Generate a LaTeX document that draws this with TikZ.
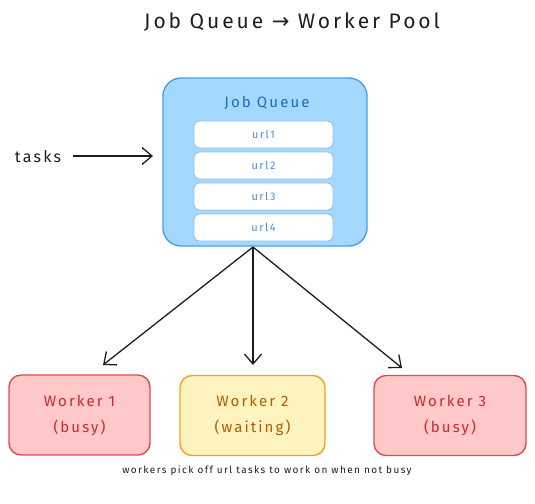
\documentclass[tikz,border=0pt]{standalone}
\usepackage{fontspec}
\setmainfont{Fira Sans}
\newfontfamily\symfont{DejaVu Sans}
\usetikzlibrary{arrows.meta}
\definecolor{qfill}{HTML}{A5D8FF}
\definecolor{qline}{HTML}{4A9EED}
\definecolor{qtext}{HTML}{1C6BB8}
\definecolor{utext}{HTML}{4A8FD8}
\definecolor{uline}{HTML}{8FBFEA}
\definecolor{rfill}{HTML}{FFC9C9}
\definecolor{rline}{HTML}{E5484D}
\definecolor{rtext}{HTML}{C92A2A}
\definecolor{yfill}{HTML}{FFF3BF}
\definecolor{yline}{HTML}{F0A31C}
\definecolor{ytext}{HTML}{B35C00}
\definecolor{ink}{HTML}{1E1E1E}
\newcommand{\spaced}[2]{\fontsize{#1}{#2}\selectfont\addfontfeatures{LetterSpace=14}}
\tikzset{
  queuebox/.style={draw=qline, fill=qfill, line width=1.4pt, rounded corners=18pt, minimum width=204pt, minimum height=168pt},
  urlbox/.style={draw=uline, fill=white, line width=0.9pt, rounded corners=5pt, minimum width=139pt, minimum height=27pt, text=utext, font=\spaced{11}{13}},
  redbox/.style={draw=rline, fill=rfill, line width=1.4pt, rounded corners=12pt, minimum height=80pt, text=rtext, align=center, font=\spaced{15}{26}},
  yellowbox/.style={draw=yline, fill=yfill, line width=1.4pt, rounded corners=12pt, minimum height=80pt, text=ytext, align=center, font=\spaced{15}{26}},
  conn/.style={draw=ink, line width=1.3pt, -{Straight Barb[length=10pt,width=17pt,line width=1.3pt]}},
}
\begin{document}
\begin{tikzpicture}[x=1pt,y=-1pt]
\useasboundingbox (0,0) rectangle (535,503);
\node[font=\spaced{21}{24}, text=ink] (title) at (292,22) {Job Queue {\symfont →} Worker Pool};
\node[queuebox] (jq) at (265,162) {};
\node[text=qtext, font=\spaced{15}{18}] (jqlabel) at (267,103) {Job Queue};
\node[urlbox] (u1) at (263.5,134.5) {url1};
\node[urlbox] (u2) at (263.5,165.5) {url2};
\node[urlbox] (u3) at (263.5,196.5) {url3};
\node[urlbox] (u4) at (263.5,227.5) {url4};
\node[text=ink, font=\spaced{16}{18}] (tasks) at (38,157) {tasks};
\coordinate (tstart) at (73,156);
\coordinate (tend) at (153,156);
\draw[conn] (tstart) -- (tend);
\node[redbox, minimum width=141pt] (w1) at (79.5,415) {Worker 1\\(busy)};
\node[yellowbox, minimum width=145pt] (w2) at (252.5,415.5) {Worker 2\\(waiting)};
\node[redbox, minimum width=152pt] (w3) at (450,415.5) {Worker 3\\(busy)};
\coordinate (src) at (253,247);
\coordinate (e1) at (103,365);
\coordinate (e2) at (253,365);
\coordinate (e3) at (402,368);
\draw[conn] (src) -- (e1);
\draw[conn] (src) -- (e2);
\draw[conn] (src) -- (e3);
\node[text=ink, font=\spaced{10}{12}] (foot) at (267,471) {workers pick off url tasks to work on when not busy};
\end{tikzpicture}
\end{document}
